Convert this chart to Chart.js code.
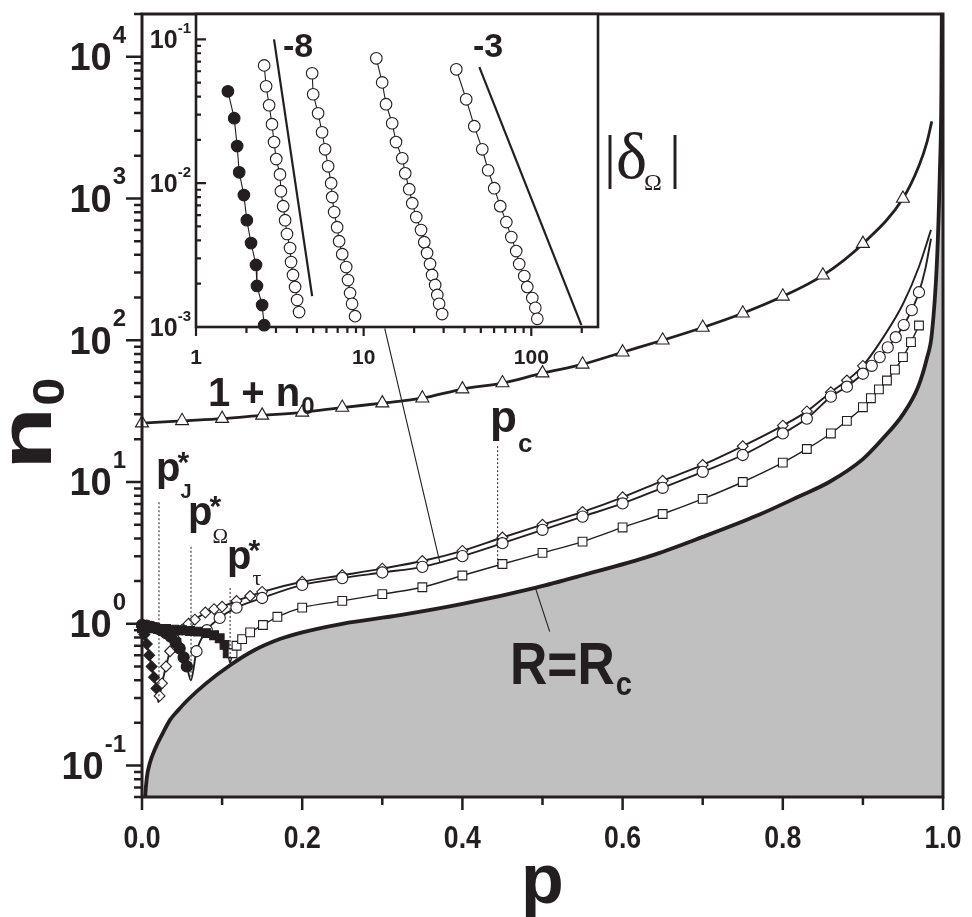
<!DOCTYPE html>
<html><head><meta charset="utf-8">
<script src="https://cdn.jsdelivr.net/npm/chart.js@4.4.1/dist/chart.umd.min.js"></script>
<style>
html,body{margin:0;padding:0;background:#fff;}
#wrap{position:relative;width:972px;height:917px;overflow:hidden;}
#wrap canvas{position:absolute;left:0;top:0;}
</style></head><body>
<div id="wrap"><canvas id="main" width="972" height="917"></canvas><canvas id="inset" width="972" height="917"></canvas></div>
<script>
// ---------------- main plot data (p, n0) ----------------
const triP = [0,0.05,0.10,0.15,0.20,0.25,0.30,0.35,0.40,0.45,0.50,0.55,0.60,0.65,0.70,0.75,0.80,0.85,0.90,0.95];
const triN = [26,27,28,29.5,31,33.5,36,39,45.2,49.9,58.6,67.6,82.3,100,123,155,204,287,480,1000];
const triTailP = [0.97,0.98,0.986];
const triTailN = [1700,2500,3500];

const jFilledP = [0,0.003,0.006,0.009,0.012,0.015,0.018];
const jFilledN = [0.95,0.84,0.72,0.60,0.50,0.42,0.35];
const jDipP = [0.0205];
const jDipN = [0.28];
const jOpenP = [0.022,0.025,0.030,0.035,0.042,0.050,0.058,0.066,0.079,0.090,0.100,0.118,0.135,0.150,0.20,0.25,0.30,0.35,0.40,0.45,0.50,0.55,0.60,0.65,0.70,0.75,0.80,0.83,0.86,0.88,0.90];
const jOpenN = [0.31,0.38,0.50,0.64,0.78,0.91,1.0,1.07,1.2,1.27,1.32,1.45,1.57,1.68,1.98,2.2,2.45,2.77,3.27,4.06,5.0,6.15,7.8,10.2,13.2,17.9,25,31.5,43,52,66];
const jTailP = [0.93,0.95,0.97,0.985];
const jTailN = [115,180,330,600];

const wFilledP = [0,0.006,0.012,0.018,0.024,0.030,0.036,0.042,0.047,0.052,0.056];
const wFilledN = [0.98,0.97,0.95,0.93,0.90,0.86,0.81,0.74,0.67,0.58,0.50];
const wDipP = [0.061];
const wDipN = [0.40];
const wOpenP = [0.068,0.081,0.097,0.118,0.15,0.20,0.25,0.30,0.35,0.40,0.45,0.50,0.55,0.60,0.65,0.70,0.75,0.80,0.83,0.86,0.88,0.90,0.911,0.921,0.931,0.941,0.951,0.961,0.970];
const wOpenN = [0.64,0.90,1.10,1.30,1.52,1.88,2.1,2.3,2.52,3.0,3.7,4.6,5.7,7.06,9.1,11.8,15.5,22,28,40,47,58,66,76,89,105,128,163,218];
const wTailP = [0.978,0.985];
const wTailN = [320,520];

const tFilledP = [0,0.01,0.02,0.03,0.04,0.05,0.06,0.07,0.08,0.09,0.097,0.103,0.107];
const tFilledN = [0.93,0.93,0.92,0.92,0.91,0.90,0.89,0.88,0.86,0.83,0.79,0.71,0.62];
const tDipP = [0.110];
const tDipN = [0.53];
const tOpenP = [0.113,0.118,0.125,0.135,0.151,0.169,0.20,0.25,0.30,0.35,0.40,0.45,0.50,0.55,0.60,0.65,0.70,0.75,0.80,0.83,0.86,0.88,0.90,0.91,0.92,0.93,0.94,0.95,0.96,0.97];
const tOpenN = [0.62,0.70,0.78,0.87,0.98,1.12,1.30,1.45,1.62,1.81,2.19,2.64,3.16,3.8,4.78,5.95,7.6,10,13.7,17.1,22,27,33.7,39,45,52,62,76,97,127];

// R = Rc boundary
const bP = [0,0.002,0.004,0.006,0.010,0.016,0.025,0.035,0.045,0.057,0.080,0.110,0.140,0.172,0.200,0.250,0.322,0.400,0.492,0.550,0.634,0.700,0.768,0.820,0.858,0.900,0.924,0.950,0.969,0.980,0.986,0.9925,0.996,0.998,1.0];
const bN = [0.01,0.032,0.06,0.082,0.105,0.13,0.165,0.21,0.245,0.29,0.38,0.51,0.65,0.78,0.87,1.0,1.15,1.38,1.8,2.2,3.0,4.1,5.8,7.9,10,14.5,20,30,47,75,110,365,1500,6000,1e6];

// dotted guides at p*_J, p*_Omega, p*_tau, p_c and thin pointer lines
const guideJP = [0.0212,0.0212], guideJN = [7.2,0.30];
const guideWP = [0.0612,0.0612], guideWN = [3.49,0.42];
const guideTP = [0.110,0.110], guideTN = [1.79,0.54];
const guideCP = [0.444,0.444], guideCN = [17.9,2.5];
const pointerInsetP = [0.303,0.372], pointerInsetN = [121,2.69];
const pointerRcP = [0.491,0.509], pointerRcN = [1.80,0.88];

// axes
const xRange = [0,1];
const yRange = [0.06,20000];
const xTickVals = [0,0.1,0.2,0.3,0.4,0.5,0.6,0.7,0.8,0.9,1.0];
const xTickLabels = ['0.0','0.2','0.4','0.6','0.8','1.0'];
const yTickExps = [-1,0,1,2,3,4];

// ---------------- inset data (1 + n0, |delta_Omega|) ----------------
const insFilledX = [1.55,1.69,1.76,1.81,1.93,2.01,2.13,2.28,2.31,2.48,2.55];
const insFilledY = [0.0435,0.0283,0.0181,0.0119,0.00826,0.00553,0.00383,0.00270,0.00193,0.00142,0.00103];
const insAX = [2.55,2.62,2.73,2.84,2.92,3.01,3.17,3.21,3.31,3.40,3.49,3.64,3.69,3.79,3.90,4.01,4.12];
const insAY = [0.0659,0.0472,0.0348,0.0257,0.0193,0.0147,0.0115,0.00879,0.00692,0.00553,0.00443,0.00354,0.00283,0.00230,0.00190,0.00154,0.00127];
const insBX = [4.93,5.00,5.35,5.65,5.89,6.14,6.40,6.49,6.67,6.95,7.14,7.45,7.87,8.07,8.30,8.53,8.89];
const insBY = [0.0581,0.0415,0.0306,0.0226,0.0172,0.0131,0.0100,0.0080,0.0063,0.00494,0.00395,0.00321,0.00261,0.00212,0.00172,0.00145,0.00119];
const insCX = [11.9,12.9,13.6,14.8,15.6,17.0,17.7,18.7,19.5,20.6,22.0,23.0,23.9,24.9,25.6,26.7,27.5,28.2,29.4];
const insCY = [0.0738,0.0502,0.0354,0.0261,0.0193,0.0149,0.0117,0.00908,0.00726,0.00581,0.00472,0.00389,0.00327,0.00274,0.00230,0.00196,0.00167,0.00145,0.00123];
const insDX = [35.7,40.9,45.7,51.0,55.3,60.1,65.3,71.0,76.0,81.3,84.7,90.8,94.6,101.4,105.7,108.6];
const insDY = [0.0619,0.0383,0.0249,0.0172,0.0123,0.00923,0.00692,0.00536,0.00422,0.00337,0.00274,0.00226,0.00190,0.00159,0.00136,0.00114];
const slope8X = [2.92,4.93], slope8Y = [0.1,0.00164];
const slope3X = [49,199], slope3Y = [0.064,0.00103];
const insXRange = [1,250];
const insYRange = [0.001,0.15];
const insXTickLabels = ['1','10','100'];
const insYTickExps = [-3,-2,-1];

// ---------------- helpers ----------------
const INK = '#231f20';
const SANS = "'Liberation Sans', Arial, Helvetica, sans-serif";
const SERIF = "'Liberation Serif', 'Times New Roman', serif";
const pts = (xs, ys) => xs.map((v, i) => ({x: v, y: ys[i]}));

function txt(ctx, s, x, y, font, opt) {
  opt = opt || {};
  ctx.save();
  ctx.font = font;
  ctx.fillStyle = opt.color || INK;
  ctx.textBaseline = 'alphabetic';
  ctx.textAlign = 'left';
  const sx = opt.sx || 1;
  const w = ctx.measureText(s).width * sx;
  let x0 = x;
  if (opt.align === 'center') x0 = x - w / 2;
  else if (opt.align === 'right') x0 = x - w;
  ctx.translate(x0, y);
  ctx.scale(sx, 1);
  ctx.fillText(s, 0, 0);
  ctx.restore();
  return w;
}
function measure(ctx, s, font, sx) {
  ctx.save(); ctx.font = font; const w = ctx.measureText(s).width * (sx || 1); ctx.restore(); return w;
}
function logTicks(min, max) {
  const out = [];
  for (let e = Math.floor(Math.log10(min)) - 1; e <= Math.ceil(Math.log10(max)); e++) {
    for (let k = 1; k <= 9; k++) {
      const v = k * Math.pow(10, e);
      if (v >= min * 0.9999 && v <= max * 1.0001) out.push({v, major: k === 1});
    }
  }
  return out;
}
function expStr(e) { return e < 0 ? '-' + (-e) : String(e); }

function series(fp, fn, dp, dn, op, on, tp, tn, style, radius, lw) {
  const nF = fp.length, nD = dp.length, nO = op.length;
  const data = pts(fp, fn).concat(pts(dp, dn), pts(op, on), pts(tp || [], tn || []));
  return {
    data, showLine: true, borderColor: INK, borderWidth: lw, pointStyle: style,
    cubicInterpolationMode: 'monotone',
    pointRadius: c => (c.dataIndex < nF || (c.dataIndex >= nF + nD && c.dataIndex < nF + nD + nO)) ? radius : 0,
    pointBackgroundColor: c => c.dataIndex < nF ? INK : '#ffffff',
    pointBorderColor: INK, pointBorderWidth: 1.1,
    clip: {left: 9, top: 0, right: 0, bottom: 0}, order: 2
  };
}
function guide(xs, ys, dash, lw) {
  return {data: pts(xs, ys), showLine: true, borderColor: INK, borderWidth: lw || 1,
    borderDash: dash || [], pointRadius: 0, order: 1};
}

// ---------------- main chart ----------------
const mainDeco = {
  id: 'mainDeco',
  afterDraw(chart) {
    const {ctx, chartArea: a, scales: {x, y}} = chart;
    ctx.save();
    ctx.strokeStyle = INK;
    ctx.lineCap = 'butt';
    ctx.lineWidth = 2.5;
    ctx.beginPath();
    xTickVals.forEach(v => {
      const px = x.getPixelForValue(v);
      const major = Math.abs(v * 5 - Math.round(v * 5)) < 1e-6;
      ctx.moveTo(px, a.bottom); ctx.lineTo(px, a.bottom + (major ? 13 : 8));
    });
    ctx.stroke();
    ctx.beginPath();
    logTicks(yRange[0], yRange[1]).forEach(t => {
      const py = y.getPixelForValue(t.v);
      ctx.moveTo(a.left, py); ctx.lineTo(a.left - (t.major ? 16 : 8), py);
    });
    ctx.stroke();
    ctx.lineWidth = 3;
    ctx.strokeRect(a.left, a.top, a.right - a.left, a.bottom - a.top);
    ctx.restore();

    xTickLabels.forEach(s => {
      const px = x.getPixelForValue(parseFloat(s));
      txt(ctx, s, px, 848, 'bold 31px ' + SANS, {align: 'center', sx: 0.86});
    });
    yTickExps.forEach(e => {
      const py = y.getPixelForValue(Math.pow(10, e));
      const fb = 'bold 38px ' + SANS, fe = 'bold 24px ' + SANS;
      const we = measure(ctx, expStr(e), fe);
      const wb = measure(ctx, '10', fb);
      const right = 126;
      txt(ctx, '10', right - we - wb - 1, py + 13.5, fb);
      txt(ctx, expStr(e), right - we, py - 14, fe);
    });
    txt(ctx, 'p', (a.left + a.right) / 2, 903, 'bold 70px ' + SANS, {align: 'center'});
    ctx.save();
    ctx.translate(51, 470); ctx.rotate(-Math.PI / 2);
    ctx.fillStyle = INK;
    ctx.save(); ctx.scale(1.4, 1); ctx.font = 'bold 74px ' + SANS; ctx.fillText('n', 0, 0);
    const wn = ctx.measureText('n').width * 1.4; ctx.restore();
    ctx.save(); ctx.translate(wn + 1, 13); ctx.scale(1.15, 1); ctx.font = 'bold 44px ' + SANS;
    ctx.fillText('0', 0, 0); ctx.restore();
    ctx.restore();

    const fp = 'bold 40px ' + SANS, fa = 'bold 30px ' + SANS;
    let w = txt(ctx, 'p', 156, 481, fp);
    txt(ctx, '*', 156 + w - 3, 472, fa);
    txt(ctx, 'J', 156 + w, 498, 'bold 20px ' + SANS);
    w = txt(ctx, 'p', 188, 525, fp);
    txt(ctx, '*', 188 + w - 3, 516, fa);
    txt(ctx, '\u03A9', 188 + w, 543, '21px ' + SERIF);
    w = txt(ctx, 'p', 227, 569, fp);
    txt(ctx, '*', 227 + w - 3, 560, fa);
    txt(ctx, '\u03C4', 227 + w + 1, 585, '22px ' + SERIF);
    w = txt(ctx, 'p', 490, 432, 'bold 44px ' + SANS);
    txt(ctx, 'c', 490 + w + 1, 452, 'bold 26px ' + SANS);
    w = txt(ctx, 'R=R', 510, 684, 'bold 60px ' + SANS, {sx: 0.86});
    txt(ctx, 'c', 510 + w + 1, 695, 'bold 34px ' + SANS, {sx: 0.86});
    txt(ctx, '|', 604, 176, '60px ' + SERIF);
    txt(ctx, '\u03B4', 616, 178, '66px ' + SERIF);
    txt(ctx, '\u03A9', 644, 190, '24px ' + SERIF);
    txt(ctx, '|', 669, 176, '60px ' + SERIF);
  }
};

new Chart(document.getElementById('main'), {
  type: 'scatter',
  data: {
    datasets: [
      {data: pts(bP, bN), showLine: true, borderColor: INK, borderWidth: 3.8, pointRadius: 0,
       fill: 'start', backgroundColor: '#c0c0c0', cubicInterpolationMode: 'monotone', order: 10},
      {data: pts(triP, triN).concat(pts(triTailP, triTailN)), showLine: true, borderColor: INK,
       borderWidth: 2.8, pointStyle: 'triangle', cubicInterpolationMode: 'monotone',
       pointRadius: c => c.dataIndex < triP.length ? 7.5 : 0,
       pointBackgroundColor: '#ffffff', pointBorderColor: INK, pointBorderWidth: 1.1,
       clip: {left: 10, top: 0, right: 0, bottom: 0}, order: 3},
      series(tFilledP, tFilledN, tDipP, tDipN, tOpenP, tOpenN, null, null, 'rect', 6.2, 1.4),
      series(wFilledP, wFilledN, wDipP, wDipN, wOpenP, wOpenN, wTailP, wTailN, 'circle', 5.6, 1.9),
      series(jFilledP, jFilledN, jDipP, jDipN, jOpenP, jOpenN, jTailP, jTailN, 'rectRot', 5.4, 1.9),
      guide(guideJP, guideJN, [2, 2]),
      guide(guideWP, guideWN, [2, 2]),
      guide(guideTP, guideTN, [2, 2]),
      guide(guideCP, guideCN, [2, 2]),
      guide(pointerInsetP, pointerInsetN, [], 1.1),
      guide(pointerRcP, pointerRcN, [], 1.1)
    ]
  },
  options: {
    responsive: false, animation: false, devicePixelRatio: 1,
    layout: {padding: {left: 142, right: 29, top: 14, bottom: 120}},
    plugins: {legend: {display: false}, tooltip: {enabled: false}},
    elements: {line: {tension: 0}},
    scales: {
      x: {type: 'linear', min: xRange[0], max: xRange[1], display: false},
      y: {type: 'logarithmic', min: yRange[0], max: yRange[1], display: false}
    }
  },
  plugins: [mainDeco]
});

// ---------------- inset chart ----------------
const insetDeco = {
  id: 'insetDeco',
  beforeDraw(chart) {
    const {ctx, chartArea: a} = chart;
    ctx.save(); ctx.fillStyle = '#ffffff';
    ctx.fillRect(a.left, a.top, a.right - a.left, a.bottom - a.top);
    ctx.restore();
  },
  afterDraw(chart) {
    const {ctx, chartArea: a, scales: {x, y}} = chart;
    ctx.save();
    ctx.strokeStyle = INK; ctx.lineWidth = 2.2;
    ctx.beginPath();
    logTicks(insXRange[0], insXRange[1]).forEach(t => {
      const px = x.getPixelForValue(t.v);
      ctx.moveTo(px, a.bottom); ctx.lineTo(px, a.bottom + (t.major ? 9 : 6));
    });
    logTicks(insYRange[0], insYRange[1]).forEach(t => {
      const py = y.getPixelForValue(t.v);
      ctx.moveTo(a.left, py); ctx.lineTo(a.left + (t.major ? 10 : 5), py);
    });
    ctx.stroke();
    ctx.lineWidth = 2.6;
    ctx.strokeRect(a.left, a.top, a.right - a.left, a.bottom - a.top);
    ctx.restore();
    insXTickLabels.forEach(s => {
      txt(ctx, s, x.getPixelForValue(parseFloat(s)), 364, 'bold 21px ' + SANS, {align: 'center'});
    });
    insYTickExps.forEach(e => {
      const py = y.getPixelForValue(Math.pow(10, e));
      const fb = 'bold 25px ' + SANS, fe = 'bold 15px ' + SANS;
      const we = measure(ctx, expStr(e), fe), wb = measure(ctx, '10', fb);
      const right = 191;
      txt(ctx, '10', right - we - wb, py + 9, fb);
      txt(ctx, expStr(e), right - we, py - 6, fe);
    });
    const w = txt(ctx, '1 + n', 208, 406, 'bold 40px ' + SANS);
    txt(ctx, '0', 208 + w + 1, 414, 'bold 24px ' + SANS);
    txt(ctx, '-8', 283, 57, 'bold 34px ' + SANS);
    txt(ctx, '-3', 473, 57, 'bold 34px ' + SANS);
  }
};
function insSeries(xs, ys, filled) {
  return {data: pts(xs, ys), showLine: true, borderColor: INK, borderWidth: 1.1,
    pointStyle: 'circle', pointRadius: 5.8, pointBorderWidth: 1.1, pointBorderColor: INK,
    pointBackgroundColor: filled ? INK : '#ffffff', clip: 8};
}
new Chart(document.getElementById('inset'), {
  type: 'scatter',
  data: {
    datasets: [
      insSeries(insFilledX, insFilledY, true),
      insSeries(insAX, insAY, false),
      insSeries(insBX, insBY, false),
      insSeries(insCX, insCY, false),
      insSeries(insDX, insDY, false),
      {data: pts(slope8X, slope8Y), showLine: true, borderColor: INK, borderWidth: 2.2, pointRadius: 0},
      {data: pts(slope3X, slope3Y), showLine: true, borderColor: INK, borderWidth: 2.2, pointRadius: 0}
    ]
  },
  options: {
    responsive: false, animation: false, devicePixelRatio: 1,
    layout: {padding: {left: 196, right: 374, top: 14, bottom: 590}},
    plugins: {legend: {display: false}, tooltip: {enabled: false}},
    scales: {
      x: {type: 'logarithmic', min: insXRange[0], max: insXRange[1], display: false},
      y: {type: 'logarithmic', min: insYRange[0], max: insYRange[1], display: false}
    }
  },
  plugins: [insetDeco]
});
</script>
</body></html>
